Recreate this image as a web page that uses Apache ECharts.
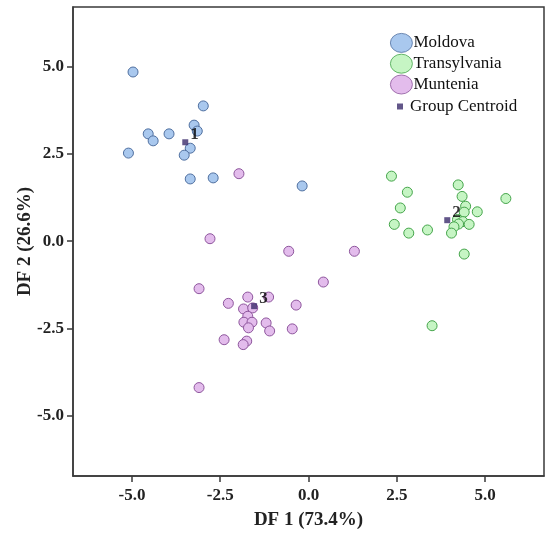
<!DOCTYPE html>
<html>
<head>
    <meta charset="utf-8">
    <title>ECharts</title>
    <script src="https://cdn.jsdelivr.net/npm/echarts@6/dist/echarts.min.js"></script>
</head>
<body style="margin:0">
    <div id="main" style="width: 550px;height:541px;"></div>
    <script type="text/javascript">
        var chartDom = document.getElementById('main');
        var myChart = echarts.init(chartDom);
        var option;

        // discriminant scores per region, [DF1, DF2]
        var moldova = [
            [-4.97, 4.84], [-5.10, 2.52], [-4.54, 3.07], [-4.40, 2.87], [-3.95, 3.07],
            [-3.24, 3.32], [-3.15, 3.15], [-2.98, 3.87], [-3.35, 2.66], [-3.52, 2.46],
            [-3.35, 1.78], [-2.70, 1.81], [-0.18, 1.58]
        ];
        var transylvania = [
            [2.35, 1.86], [2.80, 1.40], [2.60, 0.95], [2.43, 0.48], [2.84, 0.23],
            [3.37, 0.32], [4.24, 1.61], [4.35, 1.28], [4.45, 1.00], [4.41, 0.83],
            [4.78, 0.84], [5.59, 1.22], [4.22, 0.62], [4.37, 0.56], [4.55, 0.48],
            [4.25, 0.49], [4.12, 0.41], [4.05, 0.23], [4.41, -0.37], [3.50, -2.42]
        ];
        var muntenia = [
            [-1.97, 1.93], [-2.79, 0.07], [-0.56, -0.29], [1.30, -0.29], [-3.10, -1.36],
            [0.42, -1.17], [-2.27, -1.78], [-1.72, -1.60], [-1.13, -1.60], [-0.35, -1.83],
            [-1.84, -1.94], [-1.58, -1.91], [-1.72, -2.15], [-1.83, -2.32], [-1.60, -2.32],
            [-1.70, -2.48], [-1.20, -2.34], [-1.10, -2.57], [-0.46, -2.51], [-2.39, -2.82],
            [-1.75, -2.86], [-1.85, -2.96], [-3.10, -4.19]
        ];
        var centroids = [[-3.49, 2.83], [3.93, 0.60], [-1.54, -1.86]];
        var centroidNames = ['1', '2', '3'];
        var tickValues = [-5, -2.5, 0, 2.5, 5];

        var serif = 'Liberation Serif';
        var ellipse = 'path://M0,9.5a11,9.5 0 1,0 22,0a11,9.5 0 1,0 -22,0z';

        function groupSeries(name, data, fill, stroke) {
            return {
                type: 'scatter',
                name: name,
                data: data,
                symbolSize: 10,
                itemStyle: { color: fill, borderColor: stroke, borderWidth: 1, opacity: 1 }
            };
        }

        function axisCommon() {
            return {
                type: 'value',
                splitLine: { show: false },
                axisLine: { show: true, onZero: false, lineStyle: { color: '#3a3a3a', width: 1.5 } },
                axisTick: { show: true, length: 6, customValues: tickValues, lineStyle: { color: '#3a3a3a', width: 1.5 } },
                axisLabel: {
                    customValues: tickValues,
                    formatter: function (v) { return v.toFixed(1); },
                    color: '#222', fontFamily: serif, fontWeight: 'bold', fontSize: 17
                },
                nameMoveOverlap: false,
                nameTextStyle: { color: '#222', fontFamily: serif, fontWeight: 'bold', fontSize: 19 }
            };
        }

        var xAxis = axisCommon();
        xAxis.min = -6.67;
        xAxis.max = 6.67;
        xAxis.name = 'DF 1 (73.4%)';
        xAxis.nameLocation = 'middle';
        xAxis.nameGap = 35;
        xAxis.axisLabel.margin = 11;

        var yAxis = axisCommon();
        yAxis.min = -6.72;
        yAxis.max = 6.7;
        yAxis.name = 'DF 2 (26.6%)';
        yAxis.nameLocation = 'middle';
        yAxis.nameGap = 38;
        yAxis.axisLabel.margin = 9;

        option = {
            animation: false,
            grid: {
                left: 73, right: 6, top: 7, bottom: 65,
                show: true, borderColor: '#3a3a3a', borderWidth: 1.5
            },
            legend: [{
                data: ['Moldova', 'Transylvania', 'Muntenia'],
                orient: 'vertical',
                left: 385, top: 28,
                icon: ellipse,
                itemWidth: 22, itemHeight: 19,
                itemGap: 1,
                itemStyle: { borderWidth: 0.8 },
                textStyle: { fontFamily: serif, fontSize: 17, color: '#111', padding: [0, 0, 0, -4] }
            }, {
                data: ['Group Centroid'],
                orient: 'vertical',
                left: 392, top: 93,
                icon: 'rect',
                itemWidth: 6, itemHeight: 6,
                textStyle: { fontFamily: serif, fontSize: 17, color: '#111', padding: [0, 0, 0, 2] }
            }],
            xAxis: xAxis,
            yAxis: yAxis,
            series: [
                groupSeries('Moldova', moldova, '#a9c8ee', '#4f6f9f'),
                groupSeries('Transylvania', transylvania, '#c6f5c4', '#44a44a'),
                groupSeries('Muntenia', muntenia, '#e3bcec', '#8d559c'),
                {
                    type: 'scatter',
                    name: 'Group Centroid',
                    data: centroids.map(function (c, i) { return { value: c, name: centroidNames[i] }; }),
                    symbol: 'rect',
                    symbolSize: 6,
                    z: 5,
                    itemStyle: { color: '#3b2c6b' },
                    label: {
                        show: true,
                        formatter: '{b}',
                        position: 'right',
                        distance: 2,
                        offset: [0, -8],
                        color: '#000',
                        fontFamily: serif,
                        fontWeight: 'bold',
                        fontSize: 17
                    }
                }
            ]
        };

        option && myChart.setOption(option);
    </script>
</body>
</html>
